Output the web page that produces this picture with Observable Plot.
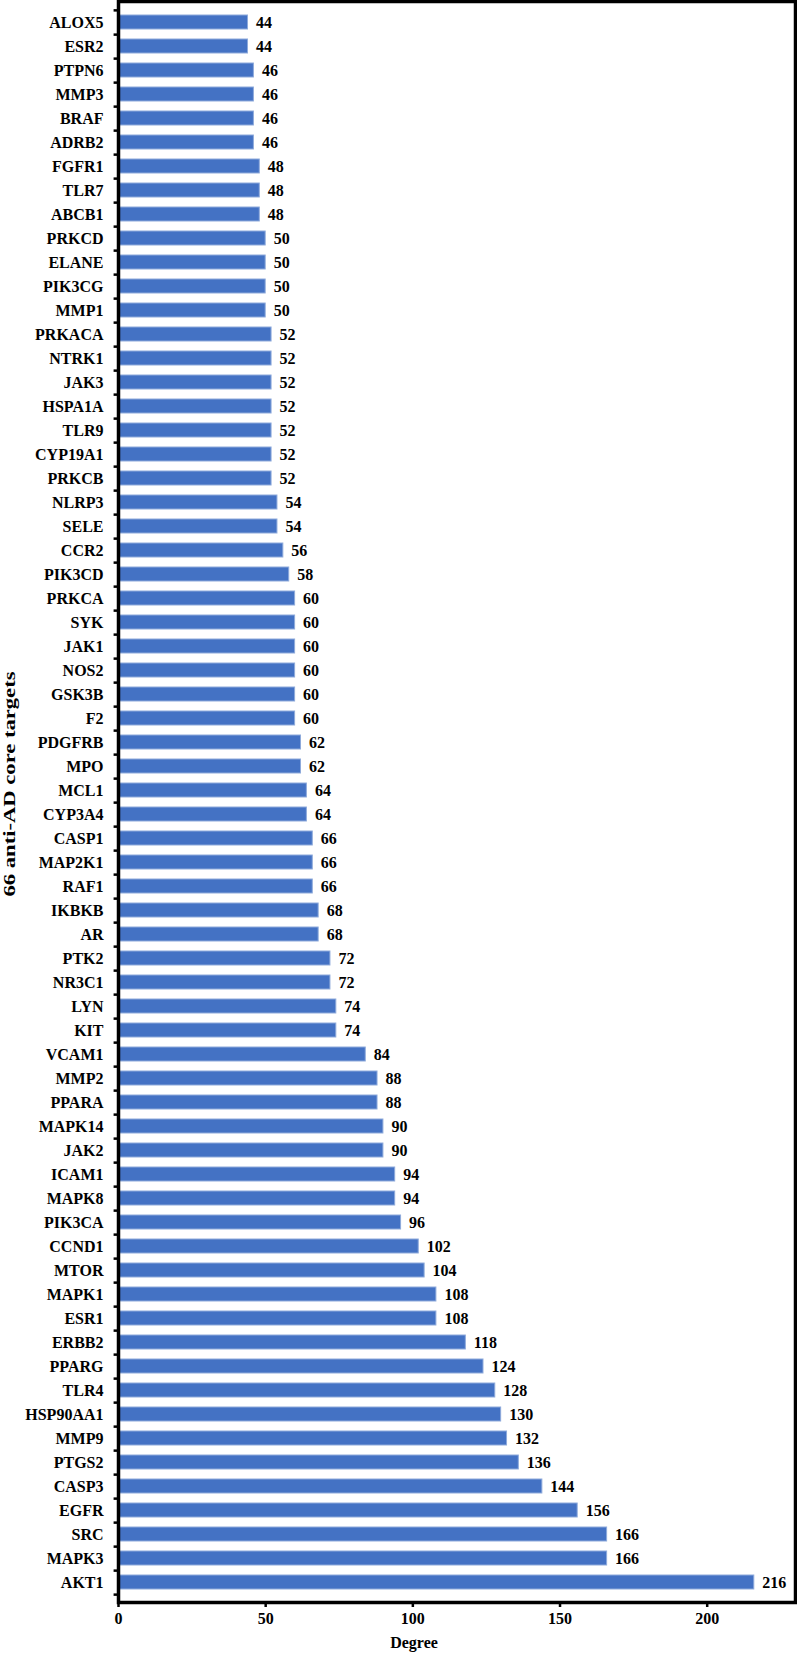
<!DOCTYPE html>
<html>
<head>
<meta charset="utf-8">
<script src="https://cdn.jsdelivr.net/npm/d3@7"></script>
<script src="https://cdn.jsdelivr.net/npm/@observablehq/plot@0.6"></script>
<style>
  html, body { margin: 0; padding: 0; background: #fff; }
  #chart svg { display: block; }
</style>
</head>
<body>
<div id="chart"></div>
<script>
const targets = ["ALOX5","ESR2","PTPN6","MMP3","BRAF","ADRB2","FGFR1","TLR7","ABCB1","PRKCD","ELANE","PIK3CG","MMP1","PRKACA","NTRK1","JAK3","HSPA1A","TLR9","CYP19A1","PRKCB","NLRP3","SELE","CCR2","PIK3CD","PRKCA","SYK","JAK1","NOS2","GSK3B","F2","PDGFRB","MPO","MCL1","CYP3A4","CASP1","MAP2K1","RAF1","IKBKB","AR","PTK2","NR3C1","LYN","KIT","VCAM1","MMP2","PPARA","MAPK14","JAK2","ICAM1","MAPK8","PIK3CA","CCND1","MTOR","MAPK1","ESR1","ERBB2","PPARG","TLR4","HSP90AA1","MMP9","PTGS2","CASP3","EGFR","SRC","MAPK3","AKT1"];
const degrees = [44,44,46,46,46,46,48,48,48,50,50,50,50,52,52,52,52,52,52,52,54,54,56,58,60,60,60,60,60,60,62,62,64,64,66,66,66,68,68,72,72,74,74,84,88,88,90,90,94,94,96,102,104,108,108,118,124,128,130,132,136,144,156,166,166,216];
const xTicks = [0, 50, 100, 150, 200];
const xTitle = "Degree";
const yTitle = "66 anti-AD core targets";

const data = targets.map((t, i) => ({target: t, degree: degrees[i]}));

const W = 797, H = 1655, mT = 1, mB = 53, mL = 118, mR = 2;
const step = (H - mT - mB) / targets.length;

const chart = Plot.plot({
  width: W,
  height: H,
  marginTop: mT,
  marginBottom: mB,
  marginLeft: mL,
  marginRight: mR,
  style: {fontFamily: "'Liberation Serif', 'Times New Roman', serif", fontWeight: "bold", fontSize: "16px", color: "#000", background: "#fff"},
  x: {domain: [0, 230]},
  y: {domain: targets, paddingInner: 0.42, paddingOuter: 0.21},
  marks: [
    Plot.barX(data, {y: "target", x: "degree", fill: "#4472C4", stroke: "#8eaadb", strokeWidth: 1}),
    Plot.text(data, {y: "target", x: "degree", text: d => String(d.degree), textAnchor: "start", dx: 8, fontSize: 16, fontWeight: "bold", fill: "#000"}),
    Plot.axisY({tickSize: 0, tickPadding: 15, fontSize: 16, fontWeight: "bold", label: null}),
    Plot.ruleY(targets, {y: d => d, x1: -1.5, x2: 0, dy: step / 2, stroke: "#000", strokeWidth: 2.5}),
    Plot.ruleY([targets[0]], {y: d => d, x1: -1.5, x2: 0, dy: -step / 2, stroke: "#000", strokeWidth: 2.5}),
    Plot.axisX({ticks: xTicks, tickFormat: d => String(d), tickSize: 5, strokeWidth: 2.5, tickPadding: 5, fontSize: 16, fontWeight: "bold", label: null}),
    Plot.text([xTitle], {frameAnchor: "bottom", dx: -43, dy: 45, fontSize: 16, fontWeight: "bold", fill: "#000"}),
    Plot.text([yTitle], {frameAnchor: "left", textAnchor: "middle", dx: -109, dy: -18, rotate: -90, fontSize: 17, fontWeight: "bold", fill: "#000"}),
    Plot.frame({stroke: "#000", strokeWidth: 3.5})
  ]
});
for (const t of chart.querySelectorAll("text")) {
  if (t.textContent === yTitle) {
    t.setAttribute("textLength", 225);
    t.setAttribute("lengthAdjust", "spacingAndGlyphs");
  }
}
document.getElementById("chart").appendChild(chart);
</script>
</body>
</html>
